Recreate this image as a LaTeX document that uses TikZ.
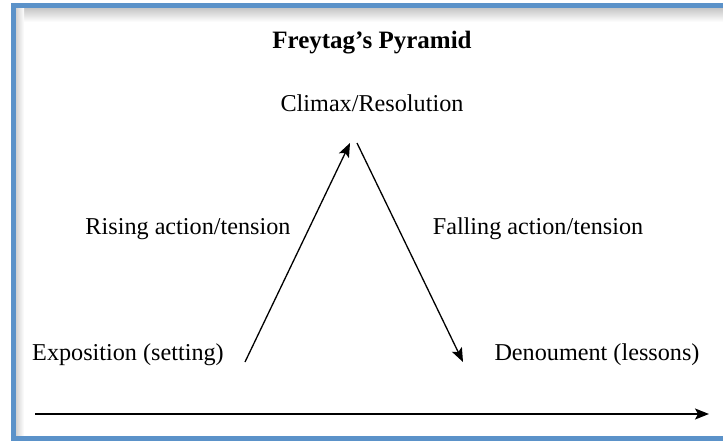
\documentclass[tikz,border=0pt]{standalone}
\usepackage{fontspec}
\setmainfont{Liberation Serif}
\usetikzlibrary{arrows.meta}
\definecolor{frameblue}{RGB}{91,146,201}

\begin{document}
\begin{tikzpicture}[x=1pt, y=-1pt,
    lbl/.style={font=\fontsize{24.2}{26}\selectfont, inner sep=0pt},
    stage/.style={line width=1.3pt, -{Stealth[length=14pt, width=11pt, inset=3pt]}}]
\useasboundingbox (0,0) rectangle (723,441);
% draw frame with its inner shadow
	\shade[top color=gray!45, bottom color=white] (16,8) rectangle (723,22);
	\shade[left color=gray!35, right color=white] (16,8) rectangle (24,436);
	\draw[line width=5pt, color=frameblue] (13.5,5.5) rectangle (745,438.5);
% draw labels
	\node[lbl, font=\bfseries\fontsize{25}{27}\selectfont] (title) at (372,43) {Freytag’s Pyramid};
	\node[lbl] (climax) at (372,103) {Climax/Resolution};
	\node[lbl] (rising) at (188,229) {Rising action/tension};
	\node[lbl] (falling) at (538,229) {Falling action/tension};
	\node[lbl] (expo) at (128,355) {Exposition (setting)};
	\node[lbl] (denoument) at (597,355) {Denoument (lessons)};
% draw arrows of the pyramid
	\coordinate (risestart) at (245,362);
	\coordinate (riseend) at (350,143);
	\coordinate (fallstart) at (357,143);
	\coordinate (fallend) at (463,362);
	\draw[stage] (risestart) -- (riseend);
	\draw[stage] (fallstart) -- (fallend);
% draw time line
	\coordinate (timestart) at (35,414);
	\coordinate (timeend) at (709,414);
	\draw[stage] (timestart) -- (timeend);
\end{tikzpicture}
\end{document}
